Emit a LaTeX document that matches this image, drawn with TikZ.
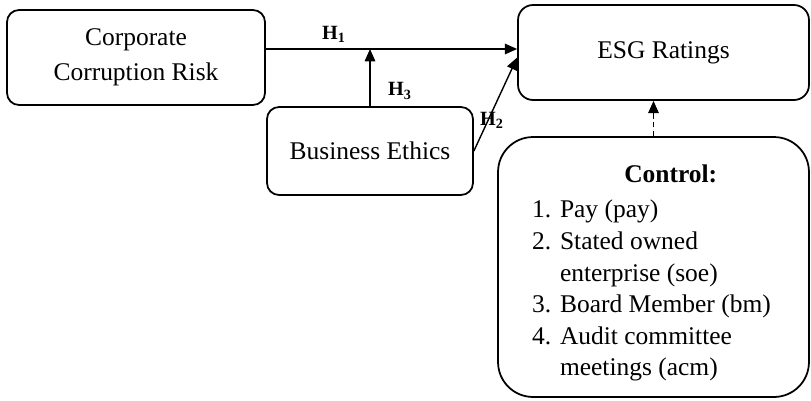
\documentclass[tikz,border=0pt]{standalone}
\usepackage{fontspec}
\setmainfont{Liberation Serif}
\usetikzlibrary{calc,arrows.meta}
\tikzset{
  box/.style={draw,line width=1pt,rounded corners=#1,align=center,
    font=\fontsize{14.5}{19.8}\selectfont},
  box/.default=0.24cm,
  link/.style={line width=0.8pt,-{Triangle[length=7pt,width=6pt]}}
}
\newcommand\DrawHyp[3]{
  \node[font=\fontsize{11.5}{13}\selectfont,inner sep=1pt] (#1) at (#2) {\textbf{H}\textsubscript{\textbf{#3}}};
}

\begin{document}
\begin{tikzpicture}[x=0.02cm,y=-0.02cm]
\useasboundingbox (0,0) rectangle (811,400);
\node[box,minimum width=5.16cm,minimum height=1.9cm] (corp) at (136,57.5) {Corporate\\Corruption Risk};
\node[box=0.3cm,minimum width=5.82cm,minimum height=1.9cm] (esg) at (663.5,52.5) {ESG Ratings};
\node[box,minimum width=4.12cm,minimum height=1.76cm] (ethics) at (370,151) {Business Ethics};
\node[box=0.7cm,minimum width=6.22cm,minimum height=5.2cm,
  font=\fontsize{14.5}{18}\selectfont] (ctrl) at (653.5,267) {};
\node[font=\fontsize{14.5}{18}\selectfont,inner sep=0pt] (ctrltext) at ($(ctrl)+(-2,6)$) {%
  \begin{tabular}{@{}r@{\hspace{5pt}}l@{}}
  & \multicolumn{1}{c@{}}{\textbf{Control:}}\\[2pt]
  1. & Pay (pay)\\
  2. & Stated owned\\
     & enterprise (soe)\\
  3. & Board Member (bm)\\
  4. & Audit committee\\
     & meetings (acm)
  \end{tabular}};
\coordinate (m) at (370,49);
\draw[link] (corp.east |- m) -- (esg.west |- m);
\draw[link] (ethics.north) -- (m);
\draw[link] (ethics.east) -- ($(esg.west)+(0,5)$);
\draw[link,dash pattern=on 3pt off 2pt] (ctrl.north) -- (ctrl.north |- esg.south);
\DrawHyp{h1}{334,34}{1}
\DrawHyp{h3}{400,91}{3}
\DrawHyp{h2}{492,120}{2}
\end{tikzpicture}
\end{document}
